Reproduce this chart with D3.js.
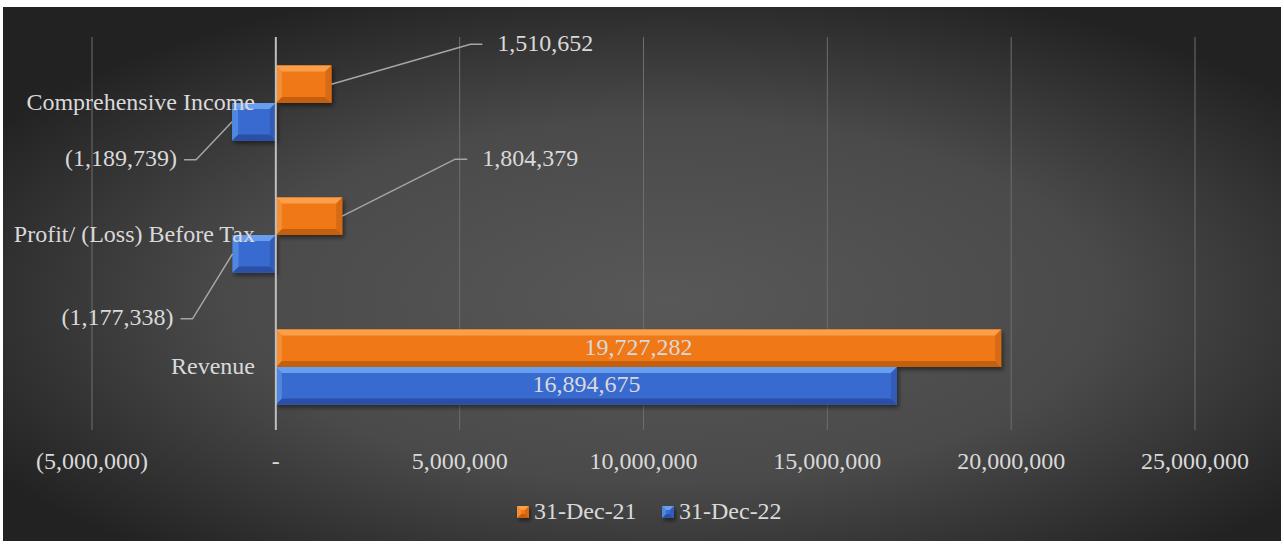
<!DOCTYPE html>
<html>
<head>
<meta charset="utf-8">
<script src="https://cdn.jsdelivr.net/npm/d3@7"></script>
<style>
  html, body { margin: 0; padding: 0; background: #fff; }
  svg { display: block; }
  text { font-family: "Liberation Serif", "Times New Roman", serif; fill: #d9d9d9; }
</style>
</head>
<body>
<div id="chart"></div>
<script>
// data
var categories = ["Comprehensive Income", "Profit/ (Loss) Before Tax", "Revenue"];
var seriesNames = ["31-Dec-21", "31-Dec-22"];
var values2021 = [1510652, 1804379, 19727282];
var values2022 = [-1189739, -1177338, 16894675];
var tickValues = [-5000000, 0, 5000000, 10000000, 15000000, 20000000, 25000000];

// where the leader-line elbows sit, relative to the bar end (null = label inside bar)
var labelOffsets2021 = [{dx: 139, dy: -40}, {dx: 113, dy: -57}, null];
var labelOffsets2022 = [{dx: -36, dy: 38}, {dx: -40, dy: 65}, null];

var width = 1284, height = 544;
var fontSize = "24px";
var svg = d3.select("#chart").append("svg").attr("width", width).attr("height", height);
var defs = svg.append("defs");

var bg = defs.append("radialGradient").attr("id", "bg")
    .attr("cx", "52%").attr("cy", "55%").attr("r", "62%");
bg.append("stop").attr("offset", "0%").attr("stop-color", "#585858");
bg.append("stop").attr("offset", "55%").attr("stop-color", "#4a4a4a");
bg.append("stop").attr("offset", "100%").attr("stop-color", "#222222");

var shadow = defs.append("filter").attr("id", "shadow")
    .attr("x", "-10%").attr("y", "-20%").attr("width", "130%").attr("height", "160%");
shadow.append("feDropShadow").attr("dx", 2).attr("dy", 3).attr("stdDeviation", 2)
    .attr("flood-color", "#000").attr("flood-opacity", 0.45);

svg.append("rect").attr("x", 3).attr("y", 7).attr("width", 1278).attr("height", 534)
    .attr("fill", "url(#bg)");

var x = d3.scaleLinear().domain([-5000000, 25000000]).range([92, 1195]);
var y = d3.scaleBand().domain(categories).range([37, 433]).paddingInner(0.43).paddingOuter(0.215);
var ySub = d3.scaleBand().domain(seriesNames).range([0, y.bandwidth()]);

var palette = {
    "31-Dec-21": {base: "#f07816", top: "#fba04a", left: "#f48f35", bottom: "#c4600e", right: "#d86b12"},
    "31-Dec-22": {base: "#386bd0", top: "#679ef0", left: "#5088e2", bottom: "#2a50a4", right: "#305cb8"}
};

function fmt(v) {
    if (v == 0) return "-";
    var s = d3.format(",")(Math.abs(v));
    return v < 0 ? "(" + s + ")" : s;
}

// gridlines
svg.append("g").selectAll("line").data(tickValues.filter(function(t) { return t != 0; }))
    .enter().append("line")
    .attr("x1", function(d) { return x(d); }).attr("x2", function(d) { return x(d); })
    .attr("y1", 37).attr("y2", 430)
    .attr("stroke", "#6e6e6e").attr("stroke-width", 1);

// tick labels
svg.append("g").selectAll("text").data(tickValues).enter().append("text")
    .attr("x", function(d) { return x(d); }).attr("y", 463)
    .attr("text-anchor", "middle").attr("dominant-baseline", "middle")
    .style("font-size", fontSize)
    .text(fmt);

function bevelBar(g, x0, x1, y0, y1, c, bev) {
    var b = Math.min(bev, (x1 - x0) / 2);
    var bar = g.append("g").attr("filter", "url(#shadow)");
    bar.append("rect").attr("x", x0).attr("y", y0).attr("width", x1 - x0).attr("height", y1 - y0).attr("fill", c.base);
    var pts = function(a) { return a.map(function(p) { return p.join(","); }).join(" "); };
    bar.append("polygon").attr("points", pts([[x0, y0], [x1, y0], [x1 - b, y0 + b], [x0 + b, y0 + b]])).attr("fill", c.top);
    bar.append("polygon").attr("points", pts([[x0, y1], [x1, y1], [x1 - b, y1 - b], [x0 + b, y1 - b]])).attr("fill", c.bottom);
    bar.append("polygon").attr("points", pts([[x0, y0], [x0 + b, y0 + b], [x0 + b, y1 - b], [x0, y1]])).attr("fill", c.left);
    bar.append("polygon").attr("points", pts([[x1, y0], [x1 - b, y0 + b], [x1 - b, y1 - b], [x1, y1]])).attr("fill", c.right);
}

var series = [
    {name: seriesNames[0], values: values2021, offsets: labelOffsets2021},
    {name: seriesNames[1], values: values2022, offsets: labelOffsets2022}
];

var barsG = svg.append("g");
var labelsG = svg.append("g");

series.forEach(function(s) {
    s.values.forEach(function(v, i) {
        var cat = categories[i];
        var y0 = y(cat) + ySub(s.name);
        var y1 = y0 + ySub.bandwidth();
        var xa = x(Math.min(0, v)), xb = x(Math.max(0, v));
        bevelBar(barsG, xa, xb, y0, y1, palette[s.name], 6);

        var off = s.offsets[i];
        var midY = (y0 + y1) / 2;
        if (!off) {
            labelsG.append("text").attr("x", (xa + xb) / 2).attr("y", midY + 1)
                .attr("text-anchor", "middle").attr("dominant-baseline", "middle")
                .style("font-size", fontSize).text(fmt(v));
            return;
        }
        var ex = v < 0 ? xa : xb;
        var ox = ex + off.dx, oy = midY + off.dy;
        var dir = v < 0 ? -1 : 1;
        labelsG.append("polyline")
            .attr("points", [[ex, midY], [ox, oy], [ox + dir * 12, oy]].map(function(p) { return p.join(","); }).join(" "))
            .attr("fill", "none").attr("stroke", "#a6a6a6").attr("stroke-width", 1.5);
        labelsG.append("text").attr("x", ox + (v < 0 ? -19 : 27)).attr("y", oy + 1)
            .attr("text-anchor", v < 0 ? "end" : "start").attr("dominant-baseline", "middle")
            .style("font-size", fontSize).text(fmt(v));
    });
});

// zero axis line
svg.append("line").attr("x1", x(0)).attr("x2", x(0)).attr("y1", 37).attr("y2", 430)
    .attr("stroke", "#bfbfbf").attr("stroke-width", 2);

// category labels
svg.append("g").selectAll("text").data(categories).enter().append("text")
    .attr("x", 255).attr("y", function(d) { return y(d) + y.bandwidth() / 2 + 1; })
    .attr("text-anchor", "end").attr("dominant-baseline", "middle")
    .style("font-size", fontSize)
    .text(function(d) { return d; });

// legend
var legend = svg.append("g");
var legendX = [517, 662];
seriesNames.forEach(function(n, i) {
    var lx = legendX[i];
    bevelBar(legend, lx, lx + 12, 506, 518, palette[n], 4);
    legend.append("text").attr("x", lx + 17).attr("y", 513)
        .attr("dominant-baseline", "middle").style("font-size", fontSize).text(n);
});
</script>
</body>
</html>
